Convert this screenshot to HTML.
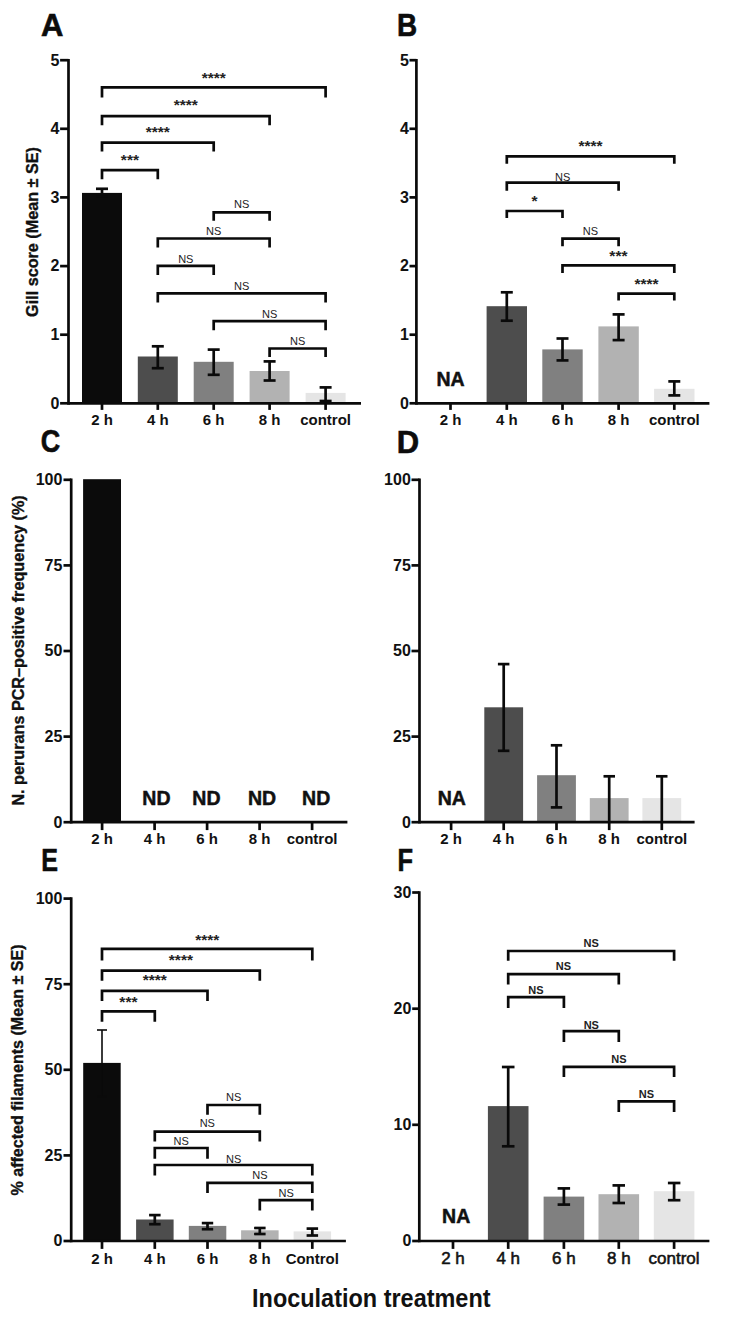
<!DOCTYPE html>
<html><head><meta charset="utf-8"><title>Figure</title>
<style>
html,body{margin:0;padding:0;background:#fff;}
svg{display:block;font-family:"Liberation Sans",sans-serif;}
</style></head>
<body>
<svg width="731" height="1329" viewBox="0 0 731 1329">
<rect width="731" height="1329" fill="#ffffff"/>
<rect x="82.0" y="192.9" width="40.0" height="210.4" fill="#0b0b0b"/>
<rect x="137.8" y="356.5" width="40.0" height="46.8" fill="#4d4d4d"/>
<rect x="193.7" y="361.8" width="40.0" height="41.5" fill="#808080"/>
<rect x="249.6" y="371.0" width="40.0" height="32.3" fill="#b2b2b2"/>
<rect x="305.6" y="392.9" width="40.0" height="10.4" fill="#e5e5e5"/>
<line x1="102.0" y1="188.8" x2="102.0" y2="196.6" stroke="#0a0a0a" stroke-width="2.7" stroke-linecap="butt"/>
<line x1="96.0" y1="188.8" x2="108.0" y2="188.8" stroke="#0a0a0a" stroke-width="2.7" stroke-linecap="butt"/>
<line x1="96.0" y1="196.6" x2="108.0" y2="196.6" stroke="#0a0a0a" stroke-width="2.7" stroke-linecap="butt"/>
<line x1="157.8" y1="346.3" x2="157.8" y2="368.2" stroke="#0a0a0a" stroke-width="2.7" stroke-linecap="butt"/>
<line x1="151.8" y1="346.3" x2="163.8" y2="346.3" stroke="#0a0a0a" stroke-width="2.7" stroke-linecap="butt"/>
<line x1="151.8" y1="368.2" x2="163.8" y2="368.2" stroke="#0a0a0a" stroke-width="2.7" stroke-linecap="butt"/>
<line x1="213.7" y1="349.6" x2="213.7" y2="374.8" stroke="#0a0a0a" stroke-width="2.7" stroke-linecap="butt"/>
<line x1="207.7" y1="349.6" x2="219.7" y2="349.6" stroke="#0a0a0a" stroke-width="2.7" stroke-linecap="butt"/>
<line x1="207.7" y1="374.8" x2="219.7" y2="374.8" stroke="#0a0a0a" stroke-width="2.7" stroke-linecap="butt"/>
<line x1="269.6" y1="361.4" x2="269.6" y2="380.5" stroke="#0a0a0a" stroke-width="2.7" stroke-linecap="butt"/>
<line x1="263.6" y1="361.4" x2="275.6" y2="361.4" stroke="#0a0a0a" stroke-width="2.7" stroke-linecap="butt"/>
<line x1="263.6" y1="380.5" x2="275.6" y2="380.5" stroke="#0a0a0a" stroke-width="2.7" stroke-linecap="butt"/>
<line x1="325.6" y1="387.4" x2="325.6" y2="401.0" stroke="#0a0a0a" stroke-width="2.7" stroke-linecap="butt"/>
<line x1="319.6" y1="387.4" x2="331.6" y2="387.4" stroke="#0a0a0a" stroke-width="2.7" stroke-linecap="butt"/>
<line x1="319.6" y1="401.0" x2="331.6" y2="401.0" stroke="#0a0a0a" stroke-width="2.7" stroke-linecap="butt"/>
<line x1="68.5" y1="58.9" x2="68.5" y2="404.7" stroke="#0a0a0a" stroke-width="2.7" stroke-linecap="butt"/>
<line x1="68.5" y1="403.3" x2="361.0" y2="403.3" stroke="#0a0a0a" stroke-width="2.7" stroke-linecap="butt"/>
<line x1="60.1" y1="403.3" x2="68.5" y2="403.3" stroke="#0a0a0a" stroke-width="2.7" stroke-linecap="butt"/>
<text x="59.5" y="408.6" font-size="16" text-anchor="end" font-weight="bold" fill="#111" >0</text>
<line x1="60.1" y1="334.7" x2="68.5" y2="334.7" stroke="#0a0a0a" stroke-width="2.7" stroke-linecap="butt"/>
<text x="59.5" y="340.0" font-size="16" text-anchor="end" font-weight="bold" fill="#111" >1</text>
<line x1="60.1" y1="266.1" x2="68.5" y2="266.1" stroke="#0a0a0a" stroke-width="2.7" stroke-linecap="butt"/>
<text x="59.5" y="271.4" font-size="16" text-anchor="end" font-weight="bold" fill="#111" >2</text>
<line x1="60.1" y1="197.4" x2="68.5" y2="197.4" stroke="#0a0a0a" stroke-width="2.7" stroke-linecap="butt"/>
<text x="59.5" y="202.7" font-size="16" text-anchor="end" font-weight="bold" fill="#111" >3</text>
<line x1="60.1" y1="128.8" x2="68.5" y2="128.8" stroke="#0a0a0a" stroke-width="2.7" stroke-linecap="butt"/>
<text x="59.5" y="134.1" font-size="16" text-anchor="end" font-weight="bold" fill="#111" >4</text>
<line x1="60.1" y1="60.2" x2="68.5" y2="60.2" stroke="#0a0a0a" stroke-width="2.7" stroke-linecap="butt"/>
<text x="59.5" y="65.5" font-size="16" text-anchor="end" font-weight="bold" fill="#111" >5</text>
<line x1="102.0" y1="403.3" x2="102.0" y2="409.9" stroke="#0a0a0a" stroke-width="2.7" stroke-linecap="butt"/>
<text x="102.0" y="424.8" font-size="15" text-anchor="middle" font-weight="bold" fill="#111" >2 h</text>
<line x1="157.8" y1="403.3" x2="157.8" y2="409.9" stroke="#0a0a0a" stroke-width="2.7" stroke-linecap="butt"/>
<text x="157.8" y="424.8" font-size="15" text-anchor="middle" font-weight="bold" fill="#111" >4 h</text>
<line x1="213.7" y1="403.3" x2="213.7" y2="409.9" stroke="#0a0a0a" stroke-width="2.7" stroke-linecap="butt"/>
<text x="213.7" y="424.8" font-size="15" text-anchor="middle" font-weight="bold" fill="#111" >6 h</text>
<line x1="269.6" y1="403.3" x2="269.6" y2="409.9" stroke="#0a0a0a" stroke-width="2.7" stroke-linecap="butt"/>
<text x="269.6" y="424.8" font-size="15" text-anchor="middle" font-weight="bold" fill="#111" >8 h</text>
<line x1="325.6" y1="403.3" x2="325.6" y2="409.9" stroke="#0a0a0a" stroke-width="2.7" stroke-linecap="butt"/>
<text x="325.6" y="424.8" font-size="15" text-anchor="middle" font-weight="bold" fill="#111" >control</text>
<path d="M102.0 97.4V87.4H325.6V97.4" fill="none" stroke="#0a0a0a" stroke-width="2.7" stroke-linejoin="miter"/>
<text x="213.8" y="83.1" font-size="15.5" text-anchor="middle" font-weight="bold" fill="#222" >****</text>
<path d="M102.0 125.2V116.2H269.6V125.2" fill="none" stroke="#0a0a0a" stroke-width="2.7" stroke-linejoin="miter"/>
<text x="185.8" y="110.4" font-size="15.5" text-anchor="middle" font-weight="bold" fill="#222" >****</text>
<path d="M102.0 151.6V142.6H213.7V151.6" fill="none" stroke="#0a0a0a" stroke-width="2.7" stroke-linejoin="miter"/>
<text x="157.8" y="136.8" font-size="15.5" text-anchor="middle" font-weight="bold" fill="#222" >****</text>
<path d="M102.0 179.2V170.2H157.8V179.2" fill="none" stroke="#0a0a0a" stroke-width="2.7" stroke-linejoin="miter"/>
<text x="129.9" y="165.2" font-size="15.5" text-anchor="middle" font-weight="bold" fill="#222" >***</text>
<path d="M213.7 220.8V212.3H269.6V220.8" fill="none" stroke="#0a0a0a" stroke-width="2.7" stroke-linejoin="miter"/>
<text x="241.7" y="208.1" font-size="11" text-anchor="middle" font-weight="normal" fill="#222" >NS</text>
<path d="M157.8 247.5V238.5H269.6V247.5" fill="none" stroke="#0a0a0a" stroke-width="2.7" stroke-linejoin="miter"/>
<text x="213.7" y="234.9" font-size="11" text-anchor="middle" font-weight="normal" fill="#222" >NS</text>
<path d="M157.8 274.9V265.9H213.7V274.9" fill="none" stroke="#0a0a0a" stroke-width="2.7" stroke-linejoin="miter"/>
<text x="185.8" y="263.3" font-size="11" text-anchor="middle" font-weight="normal" fill="#222" >NS</text>
<path d="M157.8 302.6V293.3H325.6V302.6" fill="none" stroke="#0a0a0a" stroke-width="2.7" stroke-linejoin="miter"/>
<text x="241.7" y="290.2" font-size="11" text-anchor="middle" font-weight="normal" fill="#222" >NS</text>
<path d="M213.7 330.2V321.2H325.6V330.2" fill="none" stroke="#0a0a0a" stroke-width="2.7" stroke-linejoin="miter"/>
<text x="269.6" y="317.5" font-size="11" text-anchor="middle" font-weight="normal" fill="#222" >NS</text>
<path d="M269.6 357.0V348.5H325.6V357.0" fill="none" stroke="#0a0a0a" stroke-width="2.7" stroke-linejoin="miter"/>
<text x="297.6" y="345.4" font-size="11" text-anchor="middle" font-weight="normal" fill="#222" >NS</text>
<text x="0.0" y="0.0" font-size="16.2" text-anchor="middle" font-weight="bold" fill="#111" transform="translate(38.3 232) rotate(-90)" stroke="#111" stroke-width="0.35">Gill score (Mean ± SE)</text>
<text transform="translate(40.9 36.0) scale(1.0 1)" font-size="31" font-weight="bold" fill="#0c0c0c" stroke="#0c0c0c" stroke-width="0.6">A</text>
<rect x="486.6" y="306.2" width="40.4" height="97.1" fill="#4d4d4d"/>
<rect x="542.3" y="349.4" width="40.4" height="53.9" fill="#808080"/>
<rect x="598.4" y="326.4" width="40.4" height="76.9" fill="#b2b2b2"/>
<rect x="654.1" y="388.8" width="40.4" height="14.5" fill="#e5e5e5"/>
<line x1="506.8" y1="292.3" x2="506.8" y2="320.7" stroke="#0a0a0a" stroke-width="2.7" stroke-linecap="butt"/>
<line x1="500.8" y1="292.3" x2="512.8" y2="292.3" stroke="#0a0a0a" stroke-width="2.7" stroke-linecap="butt"/>
<line x1="500.8" y1="320.7" x2="512.8" y2="320.7" stroke="#0a0a0a" stroke-width="2.7" stroke-linecap="butt"/>
<line x1="562.5" y1="338.5" x2="562.5" y2="360.4" stroke="#0a0a0a" stroke-width="2.7" stroke-linecap="butt"/>
<line x1="556.5" y1="338.5" x2="568.5" y2="338.5" stroke="#0a0a0a" stroke-width="2.7" stroke-linecap="butt"/>
<line x1="556.5" y1="360.4" x2="568.5" y2="360.4" stroke="#0a0a0a" stroke-width="2.7" stroke-linecap="butt"/>
<line x1="618.6" y1="314.4" x2="618.6" y2="340.1" stroke="#0a0a0a" stroke-width="2.7" stroke-linecap="butt"/>
<line x1="612.6" y1="314.4" x2="624.6" y2="314.4" stroke="#0a0a0a" stroke-width="2.7" stroke-linecap="butt"/>
<line x1="612.6" y1="340.1" x2="624.6" y2="340.1" stroke="#0a0a0a" stroke-width="2.7" stroke-linecap="butt"/>
<line x1="674.3" y1="381.4" x2="674.3" y2="395.4" stroke="#0a0a0a" stroke-width="2.7" stroke-linecap="butt"/>
<line x1="668.3" y1="381.4" x2="680.3" y2="381.4" stroke="#0a0a0a" stroke-width="2.7" stroke-linecap="butt"/>
<line x1="668.3" y1="395.4" x2="680.3" y2="395.4" stroke="#0a0a0a" stroke-width="2.7" stroke-linecap="butt"/>
<line x1="416.4" y1="58.9" x2="416.4" y2="404.7" stroke="#0a0a0a" stroke-width="2.7" stroke-linecap="butt"/>
<line x1="416.4" y1="403.3" x2="709.4" y2="403.3" stroke="#0a0a0a" stroke-width="2.7" stroke-linecap="butt"/>
<line x1="409.5" y1="403.3" x2="416.4" y2="403.3" stroke="#0a0a0a" stroke-width="2.7" stroke-linecap="butt"/>
<text x="408.8" y="408.6" font-size="16" text-anchor="end" font-weight="bold" fill="#111" >0</text>
<line x1="409.5" y1="334.7" x2="416.4" y2="334.7" stroke="#0a0a0a" stroke-width="2.7" stroke-linecap="butt"/>
<text x="408.8" y="340.0" font-size="16" text-anchor="end" font-weight="bold" fill="#111" >1</text>
<line x1="409.5" y1="266.1" x2="416.4" y2="266.1" stroke="#0a0a0a" stroke-width="2.7" stroke-linecap="butt"/>
<text x="408.8" y="271.4" font-size="16" text-anchor="end" font-weight="bold" fill="#111" >2</text>
<line x1="409.5" y1="197.4" x2="416.4" y2="197.4" stroke="#0a0a0a" stroke-width="2.7" stroke-linecap="butt"/>
<text x="408.8" y="202.7" font-size="16" text-anchor="end" font-weight="bold" fill="#111" >3</text>
<line x1="409.5" y1="128.8" x2="416.4" y2="128.8" stroke="#0a0a0a" stroke-width="2.7" stroke-linecap="butt"/>
<text x="408.8" y="134.1" font-size="16" text-anchor="end" font-weight="bold" fill="#111" >4</text>
<line x1="409.5" y1="60.2" x2="416.4" y2="60.2" stroke="#0a0a0a" stroke-width="2.7" stroke-linecap="butt"/>
<text x="408.8" y="65.5" font-size="16" text-anchor="end" font-weight="bold" fill="#111" >5</text>
<line x1="450.5" y1="403.3" x2="450.5" y2="409.9" stroke="#0a0a0a" stroke-width="2.7" stroke-linecap="butt"/>
<text x="450.5" y="424.8" font-size="15" text-anchor="middle" font-weight="bold" fill="#111" >2 h</text>
<line x1="506.8" y1="403.3" x2="506.8" y2="409.9" stroke="#0a0a0a" stroke-width="2.7" stroke-linecap="butt"/>
<text x="506.8" y="424.8" font-size="15" text-anchor="middle" font-weight="bold" fill="#111" >4 h</text>
<line x1="562.5" y1="403.3" x2="562.5" y2="409.9" stroke="#0a0a0a" stroke-width="2.7" stroke-linecap="butt"/>
<text x="562.5" y="424.8" font-size="15" text-anchor="middle" font-weight="bold" fill="#111" >6 h</text>
<line x1="618.6" y1="403.3" x2="618.6" y2="409.9" stroke="#0a0a0a" stroke-width="2.7" stroke-linecap="butt"/>
<text x="618.6" y="424.8" font-size="15" text-anchor="middle" font-weight="bold" fill="#111" >8 h</text>
<line x1="674.3" y1="403.3" x2="674.3" y2="409.9" stroke="#0a0a0a" stroke-width="2.7" stroke-linecap="butt"/>
<text x="674.3" y="424.8" font-size="15" text-anchor="middle" font-weight="bold" fill="#111" >control</text>
<path d="M506.8 163.7V156.4H674.3V163.7" fill="none" stroke="#0a0a0a" stroke-width="2.7" stroke-linejoin="miter"/>
<text x="590.5" y="151.4" font-size="15.5" text-anchor="middle" font-weight="bold" fill="#222" >****</text>
<path d="M506.8 190.7V182.7H618.6V190.7" fill="none" stroke="#0a0a0a" stroke-width="2.7" stroke-linejoin="miter"/>
<text x="562.7" y="180.5" font-size="11" text-anchor="middle" font-weight="normal" fill="#222" >NS</text>
<path d="M506.8 218.0V211.0H562.5V218.0" fill="none" stroke="#0a0a0a" stroke-width="2.7" stroke-linejoin="miter"/>
<text x="534.6" y="206.0" font-size="15.5" text-anchor="middle" font-weight="bold" fill="#222" >*</text>
<path d="M562.5 246.3V238.7H618.6V246.3" fill="none" stroke="#0a0a0a" stroke-width="2.7" stroke-linejoin="miter"/>
<text x="590.5" y="235.3" font-size="11" text-anchor="middle" font-weight="normal" fill="#222" >NS</text>
<path d="M562.5 273.1V265.4H674.3V273.1" fill="none" stroke="#0a0a0a" stroke-width="2.7" stroke-linejoin="miter"/>
<text x="618.4" y="261.4" font-size="15.5" text-anchor="middle" font-weight="bold" fill="#222" >***</text>
<path d="M618.6 300.4V293.6H674.3V300.4" fill="none" stroke="#0a0a0a" stroke-width="2.7" stroke-linejoin="miter"/>
<text x="646.5" y="288.6" font-size="15.5" text-anchor="middle" font-weight="bold" fill="#222" >****</text>
<text x="450.5" y="385.5" font-size="19.5" text-anchor="middle" font-weight="bold" fill="#111" stroke="#111" stroke-width="0.5">NA</text>
<text transform="translate(397.0 36.2) scale(0.9 1)" font-size="31" font-weight="bold" fill="#0c0c0c" stroke="#0c0c0c" stroke-width="0.6">B</text>
<rect x="83.1" y="479.2" width="37.9" height="343.0" fill="#0b0b0b"/>
<line x1="71.2" y1="478.4" x2="71.2" y2="823.6" stroke="#0a0a0a" stroke-width="2.7" stroke-linecap="butt"/>
<line x1="71.2" y1="822.2" x2="347.4" y2="822.2" stroke="#0a0a0a" stroke-width="2.7" stroke-linecap="butt"/>
<line x1="63.5" y1="822.2" x2="71.2" y2="822.2" stroke="#0a0a0a" stroke-width="2.7" stroke-linecap="butt"/>
<text x="62.4" y="827.5" font-size="16" text-anchor="end" font-weight="bold" fill="#111" >0</text>
<line x1="63.5" y1="736.6" x2="71.2" y2="736.6" stroke="#0a0a0a" stroke-width="2.7" stroke-linecap="butt"/>
<text x="62.4" y="741.9" font-size="16" text-anchor="end" font-weight="bold" fill="#111" >25</text>
<line x1="63.5" y1="651.0" x2="71.2" y2="651.0" stroke="#0a0a0a" stroke-width="2.7" stroke-linecap="butt"/>
<text x="62.4" y="656.3" font-size="16" text-anchor="end" font-weight="bold" fill="#111" >50</text>
<line x1="63.5" y1="565.4" x2="71.2" y2="565.4" stroke="#0a0a0a" stroke-width="2.7" stroke-linecap="butt"/>
<text x="62.4" y="570.7" font-size="16" text-anchor="end" font-weight="bold" fill="#111" >75</text>
<line x1="63.5" y1="479.8" x2="71.2" y2="479.8" stroke="#0a0a0a" stroke-width="2.7" stroke-linecap="butt"/>
<text x="62.4" y="485.1" font-size="16" text-anchor="end" font-weight="bold" fill="#111" >100</text>
<line x1="102.1" y1="822.2" x2="102.1" y2="830.1" stroke="#0a0a0a" stroke-width="2.7" stroke-linecap="butt"/>
<text x="102.1" y="843.6" font-size="15" text-anchor="middle" font-weight="bold" fill="#111" >2 h</text>
<line x1="154.6" y1="822.2" x2="154.6" y2="830.1" stroke="#0a0a0a" stroke-width="2.7" stroke-linecap="butt"/>
<text x="154.6" y="843.6" font-size="15" text-anchor="middle" font-weight="bold" fill="#111" >4 h</text>
<line x1="207.1" y1="822.2" x2="207.1" y2="830.1" stroke="#0a0a0a" stroke-width="2.7" stroke-linecap="butt"/>
<text x="207.1" y="843.6" font-size="15" text-anchor="middle" font-weight="bold" fill="#111" >6 h</text>
<line x1="259.6" y1="822.2" x2="259.6" y2="830.1" stroke="#0a0a0a" stroke-width="2.7" stroke-linecap="butt"/>
<text x="259.6" y="843.6" font-size="15" text-anchor="middle" font-weight="bold" fill="#111" >8 h</text>
<line x1="312.1" y1="822.2" x2="312.1" y2="830.1" stroke="#0a0a0a" stroke-width="2.7" stroke-linecap="butt"/>
<text x="312.1" y="843.6" font-size="15" text-anchor="middle" font-weight="bold" fill="#111" >control</text>
<text x="156.4" y="805.0" font-size="19.5" text-anchor="middle" font-weight="bold" fill="#111" stroke="#111" stroke-width="0.5">ND</text>
<text x="206.4" y="805.0" font-size="19.5" text-anchor="middle" font-weight="bold" fill="#111" stroke="#111" stroke-width="0.5">ND</text>
<text x="262.1" y="805.0" font-size="19.5" text-anchor="middle" font-weight="bold" fill="#111" stroke="#111" stroke-width="0.5">ND</text>
<text x="316.2" y="805.0" font-size="19.5" text-anchor="middle" font-weight="bold" fill="#111" stroke="#111" stroke-width="0.5">ND</text>
<text x="0.0" y="0.0" font-size="16.2" text-anchor="middle" font-weight="bold" fill="#111" transform="translate(23.8 650.4) rotate(-90)" stroke="#111" stroke-width="0.35">N. perurans PCR–positive frequency (%)</text>
<text transform="translate(40.8 452.2) scale(0.87 1)" font-size="31" font-weight="bold" fill="#0c0c0c" stroke="#0c0c0c" stroke-width="0.6">C</text>
<rect x="484.3" y="707.3" width="38.8" height="114.9" fill="#4d4d4d"/>
<rect x="537.1" y="775.2" width="38.8" height="47.0" fill="#808080"/>
<rect x="589.8" y="798.1" width="38.8" height="24.1" fill="#b2b2b2"/>
<rect x="642.4" y="798.1" width="38.8" height="24.1" fill="#e5e5e5"/>
<line x1="503.7" y1="664.1" x2="503.7" y2="750.8" stroke="#0a0a0a" stroke-width="2.7" stroke-linecap="butt"/>
<line x1="497.9" y1="664.1" x2="509.4" y2="664.1" stroke="#0a0a0a" stroke-width="2.7" stroke-linecap="butt"/>
<line x1="497.9" y1="750.8" x2="509.4" y2="750.8" stroke="#0a0a0a" stroke-width="2.7" stroke-linecap="butt"/>
<line x1="556.5" y1="745.3" x2="556.5" y2="807.4" stroke="#0a0a0a" stroke-width="2.7" stroke-linecap="butt"/>
<line x1="550.8" y1="745.3" x2="562.2" y2="745.3" stroke="#0a0a0a" stroke-width="2.7" stroke-linecap="butt"/>
<line x1="550.8" y1="807.4" x2="562.2" y2="807.4" stroke="#0a0a0a" stroke-width="2.7" stroke-linecap="butt"/>
<line x1="609.2" y1="776.3" x2="609.2" y2="822.2" stroke="#0a0a0a" stroke-width="2.7" stroke-linecap="butt"/>
<line x1="603.5" y1="776.3" x2="615.0" y2="776.3" stroke="#0a0a0a" stroke-width="2.7" stroke-linecap="butt"/>
<line x1="661.8" y1="776.3" x2="661.8" y2="822.2" stroke="#0a0a0a" stroke-width="2.7" stroke-linecap="butt"/>
<line x1="656.0" y1="776.3" x2="667.5" y2="776.3" stroke="#0a0a0a" stroke-width="2.7" stroke-linecap="butt"/>
<line x1="419.5" y1="478.4" x2="419.5" y2="823.6" stroke="#0a0a0a" stroke-width="2.7" stroke-linecap="butt"/>
<line x1="419.5" y1="822.2" x2="694.6" y2="822.2" stroke="#0a0a0a" stroke-width="2.7" stroke-linecap="butt"/>
<line x1="411.5" y1="822.2" x2="419.5" y2="822.2" stroke="#0a0a0a" stroke-width="2.7" stroke-linecap="butt"/>
<text x="410.8" y="827.5" font-size="16" text-anchor="end" font-weight="bold" fill="#111" >0</text>
<line x1="411.5" y1="736.6" x2="419.5" y2="736.6" stroke="#0a0a0a" stroke-width="2.7" stroke-linecap="butt"/>
<text x="410.8" y="741.9" font-size="16" text-anchor="end" font-weight="bold" fill="#111" >25</text>
<line x1="411.5" y1="651.0" x2="419.5" y2="651.0" stroke="#0a0a0a" stroke-width="2.7" stroke-linecap="butt"/>
<text x="410.8" y="656.3" font-size="16" text-anchor="end" font-weight="bold" fill="#111" >50</text>
<line x1="411.5" y1="565.4" x2="419.5" y2="565.4" stroke="#0a0a0a" stroke-width="2.7" stroke-linecap="butt"/>
<text x="410.8" y="570.7" font-size="16" text-anchor="end" font-weight="bold" fill="#111" >75</text>
<line x1="411.5" y1="479.8" x2="419.5" y2="479.8" stroke="#0a0a0a" stroke-width="2.7" stroke-linecap="butt"/>
<text x="410.8" y="485.1" font-size="16" text-anchor="end" font-weight="bold" fill="#111" >100</text>
<line x1="451.1" y1="822.2" x2="451.1" y2="830.1" stroke="#0a0a0a" stroke-width="2.7" stroke-linecap="butt"/>
<text x="451.1" y="843.6" font-size="15" text-anchor="middle" font-weight="bold" fill="#111" >2 h</text>
<line x1="503.7" y1="822.2" x2="503.7" y2="830.1" stroke="#0a0a0a" stroke-width="2.7" stroke-linecap="butt"/>
<text x="503.7" y="843.6" font-size="15" text-anchor="middle" font-weight="bold" fill="#111" >4 h</text>
<line x1="556.5" y1="822.2" x2="556.5" y2="830.1" stroke="#0a0a0a" stroke-width="2.7" stroke-linecap="butt"/>
<text x="556.5" y="843.6" font-size="15" text-anchor="middle" font-weight="bold" fill="#111" >6 h</text>
<line x1="609.2" y1="822.2" x2="609.2" y2="830.1" stroke="#0a0a0a" stroke-width="2.7" stroke-linecap="butt"/>
<text x="609.2" y="843.6" font-size="15" text-anchor="middle" font-weight="bold" fill="#111" >8 h</text>
<line x1="661.8" y1="822.2" x2="661.8" y2="830.1" stroke="#0a0a0a" stroke-width="2.7" stroke-linecap="butt"/>
<text x="661.8" y="843.6" font-size="15" text-anchor="middle" font-weight="bold" fill="#111" >control</text>
<text x="451.8" y="804.6" font-size="19.5" text-anchor="middle" font-weight="bold" fill="#111" stroke="#111" stroke-width="0.5">NA</text>
<text transform="translate(396.8 452.8) scale(1.0 1)" font-size="31" font-weight="bold" fill="#0c0c0c" stroke="#0c0c0c" stroke-width="0.6">D</text>
<rect x="83.2" y="1062.9" width="37.5" height="178.1" fill="#0b0b0b"/>
<rect x="136.1" y="1219.5" width="37.5" height="21.5" fill="#4d4d4d"/>
<rect x="188.8" y="1225.9" width="37.5" height="15.1" fill="#808080"/>
<rect x="241.1" y="1230.3" width="37.5" height="10.7" fill="#b2b2b2"/>
<rect x="293.6" y="1231.4" width="37.5" height="9.6" fill="#e5e5e5"/>
<line x1="102.0" y1="1030.0" x2="102.0" y2="1096.3" stroke="#0a0a0a" stroke-width="1.6" stroke-linecap="butt"/>
<line x1="97.0" y1="1030.0" x2="107.0" y2="1030.0" stroke="#0a0a0a" stroke-width="1.6" stroke-linecap="butt"/>
<line x1="97.0" y1="1096.3" x2="107.0" y2="1096.3" stroke="#0a0a0a" stroke-width="1.6" stroke-linecap="butt"/>
<line x1="154.8" y1="1215.1" x2="154.8" y2="1224.2" stroke="#0a0a0a" stroke-width="2.7" stroke-linecap="butt"/>
<line x1="149.1" y1="1215.1" x2="160.6" y2="1215.1" stroke="#0a0a0a" stroke-width="2.7" stroke-linecap="butt"/>
<line x1="149.1" y1="1224.2" x2="160.6" y2="1224.2" stroke="#0a0a0a" stroke-width="2.7" stroke-linecap="butt"/>
<line x1="207.5" y1="1223.1" x2="207.5" y2="1229.2" stroke="#0a0a0a" stroke-width="2.7" stroke-linecap="butt"/>
<line x1="201.8" y1="1223.1" x2="213.2" y2="1223.1" stroke="#0a0a0a" stroke-width="2.7" stroke-linecap="butt"/>
<line x1="201.8" y1="1229.2" x2="213.2" y2="1229.2" stroke="#0a0a0a" stroke-width="2.7" stroke-linecap="butt"/>
<line x1="259.8" y1="1228.0" x2="259.8" y2="1234.0" stroke="#0a0a0a" stroke-width="2.7" stroke-linecap="butt"/>
<line x1="254.1" y1="1228.0" x2="265.6" y2="1228.0" stroke="#0a0a0a" stroke-width="2.7" stroke-linecap="butt"/>
<line x1="254.1" y1="1234.0" x2="265.6" y2="1234.0" stroke="#0a0a0a" stroke-width="2.7" stroke-linecap="butt"/>
<line x1="312.3" y1="1228.6" x2="312.3" y2="1235.5" stroke="#0a0a0a" stroke-width="2.7" stroke-linecap="butt"/>
<line x1="306.6" y1="1228.6" x2="318.1" y2="1228.6" stroke="#0a0a0a" stroke-width="2.7" stroke-linecap="butt"/>
<line x1="306.6" y1="1235.5" x2="318.1" y2="1235.5" stroke="#0a0a0a" stroke-width="2.7" stroke-linecap="butt"/>
<line x1="71.2" y1="897.3" x2="71.2" y2="1242.3" stroke="#0a0a0a" stroke-width="2.7" stroke-linecap="butt"/>
<line x1="71.2" y1="1241.0" x2="345.9" y2="1241.0" stroke="#0a0a0a" stroke-width="2.7" stroke-linecap="butt"/>
<line x1="63.5" y1="1241.0" x2="71.2" y2="1241.0" stroke="#0a0a0a" stroke-width="2.7" stroke-linecap="butt"/>
<text x="62.4" y="1246.3" font-size="16" text-anchor="end" font-weight="bold" fill="#111" >0</text>
<line x1="63.5" y1="1155.4" x2="71.2" y2="1155.4" stroke="#0a0a0a" stroke-width="2.7" stroke-linecap="butt"/>
<text x="62.4" y="1160.7" font-size="16" text-anchor="end" font-weight="bold" fill="#111" >25</text>
<line x1="63.5" y1="1069.8" x2="71.2" y2="1069.8" stroke="#0a0a0a" stroke-width="2.7" stroke-linecap="butt"/>
<text x="62.4" y="1075.1" font-size="16" text-anchor="end" font-weight="bold" fill="#111" >50</text>
<line x1="63.5" y1="984.2" x2="71.2" y2="984.2" stroke="#0a0a0a" stroke-width="2.7" stroke-linecap="butt"/>
<text x="62.4" y="989.5" font-size="16" text-anchor="end" font-weight="bold" fill="#111" >75</text>
<line x1="63.5" y1="898.6" x2="71.2" y2="898.6" stroke="#0a0a0a" stroke-width="2.7" stroke-linecap="butt"/>
<text x="62.4" y="903.9" font-size="16" text-anchor="end" font-weight="bold" fill="#111" >100</text>
<line x1="102.0" y1="1241.0" x2="102.0" y2="1248.9" stroke="#0a0a0a" stroke-width="2.7" stroke-linecap="butt"/>
<text x="102.0" y="1263.6" font-size="15" text-anchor="middle" font-weight="bold" fill="#111" >2 h</text>
<line x1="154.8" y1="1241.0" x2="154.8" y2="1248.9" stroke="#0a0a0a" stroke-width="2.7" stroke-linecap="butt"/>
<text x="154.8" y="1263.6" font-size="15" text-anchor="middle" font-weight="bold" fill="#111" >4 h</text>
<line x1="207.5" y1="1241.0" x2="207.5" y2="1248.9" stroke="#0a0a0a" stroke-width="2.7" stroke-linecap="butt"/>
<text x="207.5" y="1263.6" font-size="15" text-anchor="middle" font-weight="bold" fill="#111" >6 h</text>
<line x1="259.8" y1="1241.0" x2="259.8" y2="1248.9" stroke="#0a0a0a" stroke-width="2.7" stroke-linecap="butt"/>
<text x="259.8" y="1263.6" font-size="15" text-anchor="middle" font-weight="bold" fill="#111" >8 h</text>
<line x1="312.3" y1="1241.0" x2="312.3" y2="1248.9" stroke="#0a0a0a" stroke-width="2.7" stroke-linecap="butt"/>
<text x="312.3" y="1263.6" font-size="15" text-anchor="middle" font-weight="bold" fill="#111" >Control</text>
<path d="M102.0 960.6V948.8H312.3V960.6" fill="none" stroke="#0a0a0a" stroke-width="2.7" stroke-linejoin="miter"/>
<text x="207.2" y="945.0" font-size="15.5" text-anchor="middle" font-weight="bold" fill="#222" >****</text>
<path d="M102.0 980.8V970.6H259.8V980.8" fill="none" stroke="#0a0a0a" stroke-width="2.7" stroke-linejoin="miter"/>
<text x="180.9" y="964.9" font-size="15.5" text-anchor="middle" font-weight="bold" fill="#222" >****</text>
<path d="M102.0 1001.1V990.8H207.5V1001.1" fill="none" stroke="#0a0a0a" stroke-width="2.7" stroke-linejoin="miter"/>
<text x="154.8" y="985.4" font-size="15.5" text-anchor="middle" font-weight="bold" fill="#222" >****</text>
<path d="M102.0 1021.8V1011.4H154.8V1021.8" fill="none" stroke="#0a0a0a" stroke-width="2.7" stroke-linejoin="miter"/>
<text x="128.4" y="1007.1" font-size="15.5" text-anchor="middle" font-weight="bold" fill="#222" >***</text>
<path d="M207.5 1114.8V1105.0H259.8V1114.8" fill="none" stroke="#0a0a0a" stroke-width="2.7" stroke-linejoin="miter"/>
<text x="233.7" y="1100.8" font-size="11" text-anchor="middle" font-weight="normal" fill="#222" >NS</text>
<path d="M154.8 1141.6V1131.6H259.8V1141.6" fill="none" stroke="#0a0a0a" stroke-width="2.7" stroke-linejoin="miter"/>
<text x="207.3" y="1127.4" font-size="11" text-anchor="middle" font-weight="normal" fill="#222" >NS</text>
<path d="M154.8 1158.8V1148.0H207.5V1158.8" fill="none" stroke="#0a0a0a" stroke-width="2.7" stroke-linejoin="miter"/>
<text x="181.2" y="1145.1" font-size="11" text-anchor="middle" font-weight="normal" fill="#222" >NS</text>
<path d="M154.8 1175.4V1165.0H312.3V1175.4" fill="none" stroke="#0a0a0a" stroke-width="2.7" stroke-linejoin="miter"/>
<text x="233.6" y="1162.8" font-size="11" text-anchor="middle" font-weight="normal" fill="#222" >NS</text>
<path d="M207.5 1193.0V1182.9H312.3V1193.0" fill="none" stroke="#0a0a0a" stroke-width="2.7" stroke-linejoin="miter"/>
<text x="259.9" y="1179.3" font-size="11" text-anchor="middle" font-weight="normal" fill="#222" >NS</text>
<path d="M259.8 1210.6V1200.2H312.3V1210.6" fill="none" stroke="#0a0a0a" stroke-width="2.7" stroke-linejoin="miter"/>
<text x="286.1" y="1196.5" font-size="11" text-anchor="middle" font-weight="normal" fill="#222" >NS</text>
<text x="0.0" y="0.0" font-size="16.1" text-anchor="middle" font-weight="bold" fill="#111" transform="translate(23.4 1070) rotate(-90)" stroke="#111" stroke-width="0.35">% affected filaments (Mean ± SE)</text>
<text transform="translate(41.2 870.9) scale(0.81 1)" font-size="31" font-weight="bold" fill="#0c0c0c" stroke="#0c0c0c" stroke-width="0.6">E</text>
<rect x="487.9" y="1106.1" width="40.6" height="134.9" fill="#4d4d4d"/>
<rect x="543.6" y="1196.6" width="40.6" height="44.4" fill="#808080"/>
<rect x="598.5" y="1194.2" width="40.6" height="46.8" fill="#b2b2b2"/>
<rect x="653.8" y="1191.2" width="40.6" height="49.8" fill="#e5e5e5"/>
<line x1="508.2" y1="1067.0" x2="508.2" y2="1146.3" stroke="#0a0a0a" stroke-width="2.7" stroke-linecap="butt"/>
<line x1="501.9" y1="1067.0" x2="514.5" y2="1067.0" stroke="#0a0a0a" stroke-width="2.7" stroke-linecap="butt"/>
<line x1="501.9" y1="1146.3" x2="514.5" y2="1146.3" stroke="#0a0a0a" stroke-width="2.7" stroke-linecap="butt"/>
<line x1="563.9" y1="1188.4" x2="563.9" y2="1204.6" stroke="#0a0a0a" stroke-width="2.7" stroke-linecap="butt"/>
<line x1="557.6" y1="1188.4" x2="570.1" y2="1188.4" stroke="#0a0a0a" stroke-width="2.7" stroke-linecap="butt"/>
<line x1="557.6" y1="1204.6" x2="570.1" y2="1204.6" stroke="#0a0a0a" stroke-width="2.7" stroke-linecap="butt"/>
<line x1="618.8" y1="1185.4" x2="618.8" y2="1203.0" stroke="#0a0a0a" stroke-width="2.7" stroke-linecap="butt"/>
<line x1="612.5" y1="1185.4" x2="625.0" y2="1185.4" stroke="#0a0a0a" stroke-width="2.7" stroke-linecap="butt"/>
<line x1="612.5" y1="1203.0" x2="625.0" y2="1203.0" stroke="#0a0a0a" stroke-width="2.7" stroke-linecap="butt"/>
<line x1="674.1" y1="1183.0" x2="674.1" y2="1200.2" stroke="#0a0a0a" stroke-width="2.7" stroke-linecap="butt"/>
<line x1="667.9" y1="1183.0" x2="680.4" y2="1183.0" stroke="#0a0a0a" stroke-width="2.7" stroke-linecap="butt"/>
<line x1="667.9" y1="1200.2" x2="680.4" y2="1200.2" stroke="#0a0a0a" stroke-width="2.7" stroke-linecap="butt"/>
<line x1="419.3" y1="891.2" x2="419.3" y2="1242.3" stroke="#0a0a0a" stroke-width="2.7" stroke-linecap="butt"/>
<line x1="419.3" y1="1241.0" x2="709.4" y2="1241.0" stroke="#0a0a0a" stroke-width="2.7" stroke-linecap="butt"/>
<line x1="412.2" y1="1241.0" x2="419.3" y2="1241.0" stroke="#0a0a0a" stroke-width="2.7" stroke-linecap="butt"/>
<text x="411.4" y="1246.3" font-size="16" text-anchor="end" font-weight="bold" fill="#111" >0</text>
<line x1="412.2" y1="1124.8" x2="419.3" y2="1124.8" stroke="#0a0a0a" stroke-width="2.7" stroke-linecap="butt"/>
<text x="411.4" y="1130.1" font-size="16" text-anchor="end" font-weight="bold" fill="#111" >10</text>
<line x1="412.2" y1="1008.7" x2="419.3" y2="1008.7" stroke="#0a0a0a" stroke-width="2.7" stroke-linecap="butt"/>
<text x="411.4" y="1014.0" font-size="16" text-anchor="end" font-weight="bold" fill="#111" >20</text>
<line x1="412.2" y1="892.5" x2="419.3" y2="892.5" stroke="#0a0a0a" stroke-width="2.7" stroke-linecap="butt"/>
<text x="411.4" y="897.8" font-size="16" text-anchor="end" font-weight="bold" fill="#111" >30</text>
<line x1="453.0" y1="1241.0" x2="453.0" y2="1248.9" stroke="#0a0a0a" stroke-width="2.7" stroke-linecap="butt"/>
<text x="453.0" y="1263.6" font-size="17" text-anchor="middle" font-weight="normal" fill="#111" stroke="#111" stroke-width="0.55">2 h</text>
<line x1="508.2" y1="1241.0" x2="508.2" y2="1248.9" stroke="#0a0a0a" stroke-width="2.7" stroke-linecap="butt"/>
<text x="508.2" y="1263.6" font-size="17" text-anchor="middle" font-weight="normal" fill="#111" stroke="#111" stroke-width="0.55">4 h</text>
<line x1="563.9" y1="1241.0" x2="563.9" y2="1248.9" stroke="#0a0a0a" stroke-width="2.7" stroke-linecap="butt"/>
<text x="563.9" y="1263.6" font-size="17" text-anchor="middle" font-weight="normal" fill="#111" stroke="#111" stroke-width="0.55">6 h</text>
<line x1="618.8" y1="1241.0" x2="618.8" y2="1248.9" stroke="#0a0a0a" stroke-width="2.7" stroke-linecap="butt"/>
<text x="618.8" y="1263.6" font-size="17" text-anchor="middle" font-weight="normal" fill="#111" stroke="#111" stroke-width="0.55">8 h</text>
<line x1="674.1" y1="1241.0" x2="674.1" y2="1248.9" stroke="#0a0a0a" stroke-width="2.7" stroke-linecap="butt"/>
<text x="674.1" y="1263.6" font-size="17" text-anchor="middle" font-weight="normal" fill="#111" stroke="#111" stroke-width="0.55">control</text>
<path d="M508.2 960.8V951.0H674.1V960.8" fill="none" stroke="#0a0a0a" stroke-width="2.7" stroke-linejoin="miter"/>
<text x="591.1" y="946.8" font-size="11" text-anchor="middle" font-weight="bold" fill="#222" >NS</text>
<path d="M508.2 984.6V974.1H618.8V984.6" fill="none" stroke="#0a0a0a" stroke-width="2.7" stroke-linejoin="miter"/>
<text x="563.5" y="969.9" font-size="11" text-anchor="middle" font-weight="bold" fill="#222" >NS</text>
<path d="M508.2 1007.9V997.1H563.9V1007.9" fill="none" stroke="#0a0a0a" stroke-width="2.7" stroke-linejoin="miter"/>
<text x="536.0" y="993.5" font-size="11" text-anchor="middle" font-weight="bold" fill="#222" >NS</text>
<path d="M563.9 1042.0V1031.2H618.8V1042.0" fill="none" stroke="#0a0a0a" stroke-width="2.7" stroke-linejoin="miter"/>
<text x="591.3" y="1028.9" font-size="11" text-anchor="middle" font-weight="bold" fill="#222" >NS</text>
<path d="M563.9 1077.1V1066.8H674.1V1077.1" fill="none" stroke="#0a0a0a" stroke-width="2.7" stroke-linejoin="miter"/>
<text x="619.0" y="1062.6" font-size="11" text-anchor="middle" font-weight="bold" fill="#222" >NS</text>
<path d="M618.8 1112.0V1101.3H674.1V1112.0" fill="none" stroke="#0a0a0a" stroke-width="2.7" stroke-linejoin="miter"/>
<text x="646.5" y="1097.7" font-size="11" text-anchor="middle" font-weight="bold" fill="#222" >NS</text>
<text x="456.2" y="1223.2" font-size="19.5" text-anchor="middle" font-weight="bold" fill="#111" stroke="#111" stroke-width="0.5">NA</text>
<text transform="translate(397.4 870.9) scale(0.82 1)" font-size="31" font-weight="bold" fill="#0c0c0c" stroke="#0c0c0c" stroke-width="0.6">F</text>
<text transform="translate(371.3 1306.5) scale(0.92 1)" font-size="25.5" font-weight="bold" text-anchor="middle" fill="#111">Inoculation treatment</text>
</svg>
</body></html>
